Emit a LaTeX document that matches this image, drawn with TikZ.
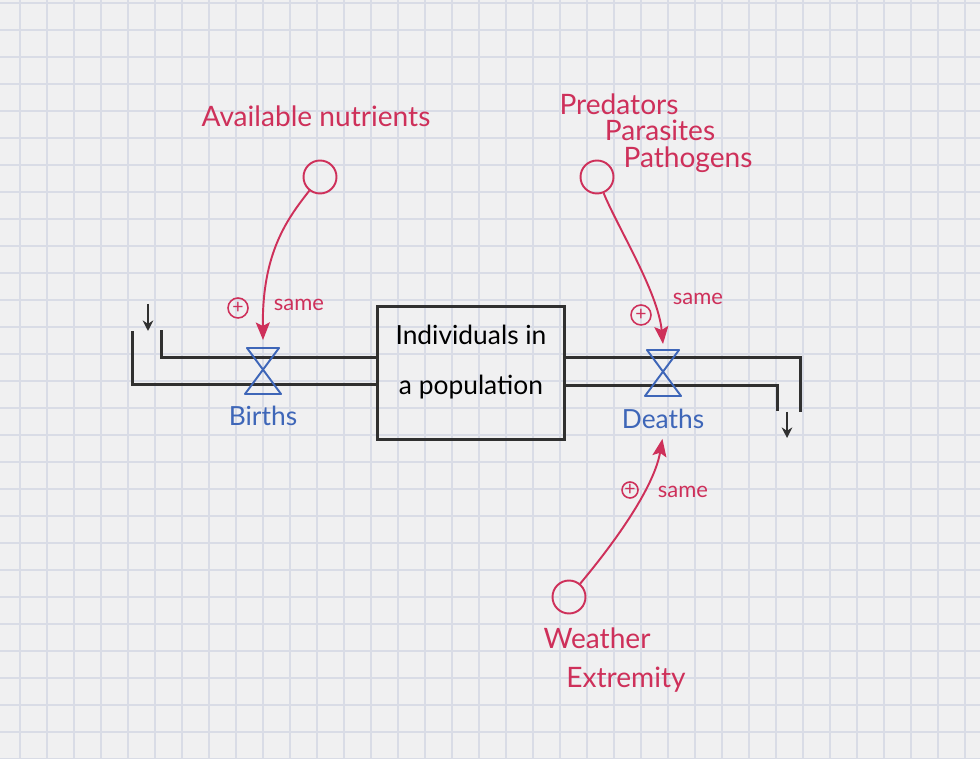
\documentclass[tikz,border=0pt]{standalone}
\usepackage{fontspec}
\setmainfont{Lato}
\usetikzlibrary{arrows.meta,positioning}
\definecolor{paper}{RGB}{240,240,241}
\definecolor{gridblue}{RGB}{217,220,230}
\definecolor{ink}{RGB}{48,48,48}
\definecolor{redink}{RGB}{206,48,90}
\definecolor{blueink}{RGB}{62,102,184}
\tikzstyle{gridline} = [draw=gridblue, line width=0.8pt]
\tikzstyle{stock} = [draw=ink, line width=1.3pt, rectangle, minimum width=3.74cm, minimum height=2.66cm, inner sep=0pt]
\tikzstyle{stocktext} = [align=center, inner sep=0pt, font=\fontsize{15}{18}\selectfont]
\tikzstyle{pipe} = [draw=ink, line width=1.3pt]
\tikzstyle{cloudarrow} = [draw=ink, line width=1pt, -{Stealth[length=6pt, width=6pt]}]
\tikzstyle{valvept} = [inner sep=0pt, minimum width=0.7cm, minimum height=0.92cm]
\tikzstyle{valveline} = [draw=blueink, line width=1.1pt, line join=round]
\tikzstyle{valvename} = [text=blueink, font=\fontsize{15}{18}\selectfont]
\tikzstyle{aux} = [draw=redink, line width=1.1pt, circle, minimum size=0.66cm, inner sep=0pt]
\tikzstyle{auxname} = [text=redink, font=\fontsize{16}{19}\selectfont, inner sep=0pt]
\tikzstyle{link} = [draw=redink, line width=1.1pt, -{Stealth[length=10pt, width=8pt, inset=2pt]}]
\tikzstyle{plusmark} = [draw=redink, text=redink, line width=0.9pt, circle, minimum size=0.4cm, inner sep=0pt, font=\fontsize{11}{11}\selectfont]
\tikzstyle{samelbl} = [text=redink, font=\fontsize{12.5}{14}\selectfont]
\newcommand{\flowvalve}[1]{\draw[valveline, shift={(#1)}] (-16,-23) -- (16,-23) -- (-18,23) -- (18,23) -- cycle;}

\begin{document}
\begin{tikzpicture}[x=0.02cm, y=-0.02cm]
\useasboundingbox (0,0) rectangle (980,759);
\fill[paper] (0,0) rectangle (980,759);
\foreach \gx in {20,47,...,980} \draw[gridline] (\gx,0) -- (\gx,759);
\foreach \gy in {3,30,...,759} \draw[gridline] (0,\gy) -- (980,\gy);

% stock and flows
\node[stock] (stock) at (471,373) {};
\node[stocktext] (stocklbl) at (471,362) {Individuals in\\[10pt]a population};
\node[valvept] (births) at (263,371) {};
\node[valvept] (deaths) at (663,373) {};
\coordinate (src) at (148,304);
\coordinate (snk) at (787,412);

\draw[pipe] ([yshift=0.31cm]stock.west) -- ++(-215,0) -- ++(0,-27);
\draw[pipe] ([yshift=-0.23cm]stock.west) -- ++(-244,0) -- ++(0,-53);
\draw[pipe] ([yshift=0.31cm]stock.east) -- ++(235,0) -- ++(0,54);
\draw[pipe] ([yshift=-0.25cm]stock.east) -- ++(212,0) -- ++(0,26);
\draw[cloudarrow] (src) -- ++(0,27);
\draw[cloudarrow] (snk) -- ++(0,26);

\flowvalve{births}
\flowvalve{deaths}
\node[valvename, below=3pt of births] (birthsname) {Births};
\node[valvename, below=4pt of deaths] (deathsname) {Deaths};

% auxiliaries
\node[aux] (nutrients) at (320,177) {};
\node[aux] (predators) at (597,177) {};
\node[aux] (weather) at (569,597) {};
\node[auxname] (nutrientsname) at (316,116) {Available nutrients};
\node[auxname] (predname) at (619,104) {Predators};
\node[auxname] (parname) at (660,130) {Parasites};
\node[auxname] (pathname) at (688,160) {Pathogens};
\node[auxname] (weathername) at (597,638) {Weather};
\node[auxname] (extremname) at (626,680) {Extremity};

\draw[link] (nutrients) .. controls (288,218) and (262,252) .. (263,340);
\draw[link] (predators) .. controls (618,228) and (658,292) .. (663,344);
\draw[link, shorten >=2pt] (weather) .. controls (625,530) and (655,482) .. (deathsname.south);

\node[plusmark] (plusB) at (238,308) {+};
\node[samelbl] (sameB) at (299,305) {same};
\node[plusmark] (plusD) at (641,315) {+};
\node[samelbl] (sameD) at (698,299) {same};
\node[plusmark, minimum size=0.32cm] (plusW) at (630,490) {+};
\node[samelbl] (sameW) at (683,492) {same};
\end{tikzpicture}
\end{document}
